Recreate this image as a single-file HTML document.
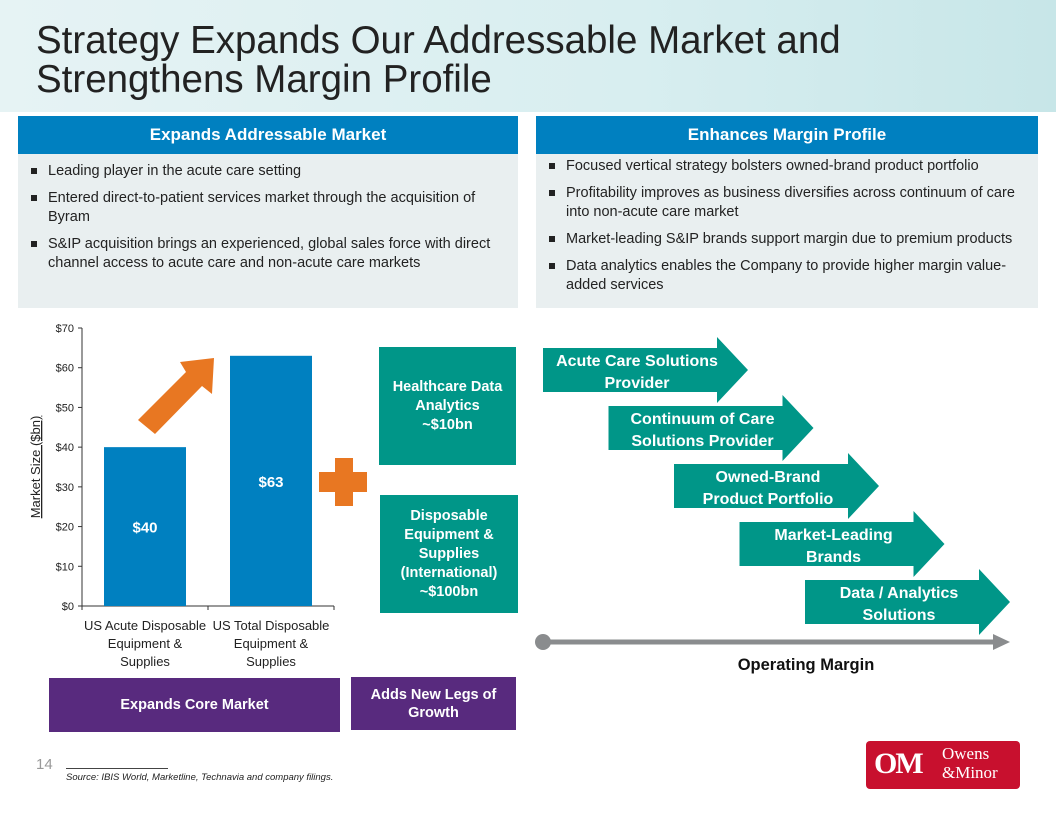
<!DOCTYPE html>
<html><head><meta charset="utf-8"><style>
*{margin:0;padding:0;box-sizing:border-box}
body{width:1056px;height:816px;position:relative;overflow:hidden;background:#fff;font-family:"Liberation Sans",sans-serif}
.abs{position:absolute}
.hdr{background:#0080c0;color:#fff;font-weight:bold;font-size:17px;text-align:center;line-height:38px}
.body{background:#e9eff0;font-size:14.5px;color:#222;padding:8px 20px 0 30px;line-height:19px}
.body li{list-style:none;position:relative;margin-bottom:8px}
.body li:before{content:"";position:absolute;left:-17px;top:6px;width:6px;height:6px;background:#222}
.teal{background:#009688;color:#fff;font-weight:bold;text-align:center;display:flex;align-items:center;justify-content:center;font-size:14.5px;line-height:19px}
.purple{background:#582a7e;color:#fff;font-weight:bold;text-align:center;display:flex;align-items:center;justify-content:center;font-size:14.5px;line-height:18px}
</style></head><body>
<div class="abs" style="left:0;top:0;width:1056px;height:112px;background:linear-gradient(90deg,#e6f3f4,#d8eef0 60%,#c7e6e8)"></div>
<div class="abs" style="left:36px;top:21px;font-size:38.5px;line-height:39px;color:#222">Strategy Expands Our Addressable Market and<br>Strengthens Margin Profile</div>

<div class="abs hdr" style="left:18px;top:116px;width:500px;height:38px">Expands Addressable Market</div>
<div class="abs body" style="left:18px;top:154px;width:500px;height:154px">
<ul><li>Leading player in the acute care setting</li>
<li>Entered direct-to-patient services market through the acquisition of Byram</li>
<li>S&amp;IP acquisition brings an experienced, global sales force with direct channel access to acute care and non-acute care markets</li></ul></div>
<div class="abs hdr" style="left:536px;top:116px;width:502px;height:38px">Enhances Margin Profile</div>
<div class="abs body" style="left:536px;top:154px;width:502px;height:154px;padding-top:3px">
<ul><li>Focused vertical strategy bolsters owned-brand product portfolio</li>
<li>Profitability improves as business diversifies across continuum of care into non-acute care market</li>
<li>Market-leading S&amp;IP brands support margin due to premium products</li>
<li>Data analytics enables the Company to provide higher margin value-added services</li></ul></div>

<svg class="abs" style="left:0;top:0" width="1056" height="816">
<g id="chart"></g>
<polygon points="138,420 186,372 180,362 214,358 212,394 202,386 155,434" fill="#e87722"/>
<g fill="#e87722"><rect x="335" y="458" width="18" height="48"/><rect x="319" y="472" width="48" height="20"/></g>
<g id="arrows"></g>
<line x1="543" y1="642" x2="995" y2="642" stroke="#8a8c8e" stroke-width="5"/>
<polygon points="993,634 1010,642 993,650" fill="#8a8c8e"/>
<circle cx="543" cy="642" r="8" fill="#8a8c8e"/>
<text x="806" y="670" text-anchor="middle" font-size="16.5" font-weight="bold" fill="#111">Operating Margin</text>
</svg>

<div class="abs teal" style="left:379px;top:347px;width:137px;height:118px">Healthcare Data<br>Analytics<br>~$10bn</div>
<div class="abs teal" style="left:380px;top:495px;width:138px;height:118px">Disposable<br>Equipment &amp;<br>Supplies<br>(International)<br>~$100bn</div>
<div class="abs purple" style="left:49px;top:678px;width:291px;height:54px">Expands Core Market</div>
<div class="abs purple" style="left:351px;top:677px;width:165px;height:53px">Adds New Legs of<br>Growth</div>

<div class="abs" style="left:36px;top:756px;font-size:15px;color:#999">14</div>
<div class="abs" style="left:66px;top:768px;width:102px;border-top:1px solid #444"></div>
<div class="abs" style="left:66px;top:772px;font-size:9.5px;font-style:italic;color:#222">Source: IBIS World, Marketline, Technavia and company filings.</div>
<div class="abs" style="left:866px;top:741px;width:154px;height:48px;background:#c8102e;border-radius:4px;color:#fff;font-family:'Liberation Serif',serif">
<span style="position:absolute;left:8px;top:6px;font-size:30px;font-weight:bold;letter-spacing:-2px">OM</span>
<span style="position:absolute;left:76px;top:3px;font-size:17px;line-height:19px">Owens<br>&amp;Minor</span></div>

<script>
const categories=[["US Acute Disposable","Equipment &","Supplies"],["US Total Disposable","Equipment &","Supplies"]];
const values=[40,63];
const valueLabels=["$40","$63"];
const ticks=[0,10,20,30,40,50,60,70];
const steps=[["Acute Care Solutions","Provider"],["Continuum of Care","Solutions Provider"],["Owned-Brand","Product Portfolio"],["Market-Leading","Brands"],["Data / Analytics","Solutions"]];
const NS="http://www.w3.org/2000/svg";
const g=document.getElementById("chart");
const x0=82,x1=334,y0=606,yTop=328,ymax=70;
const y=v=>y0-(v/ymax)*(y0-yTop);
function mk(t,a,p){const e=document.createElementNS(NS,t);for(const k in a)e.setAttribute(k,a[k]);(p||g).appendChild(e);return e;}
let ax=mk("line",{x1:x0,y1:yTop,x2:x0,y2:y0,stroke:"#333"});


let bx=mk("line",{x1:x0,y1:y0,x2:x1,y2:y0,stroke:"#333"});


ticks.forEach(t=>{mk("line",{x1:x0-4,y1:y(t),x2:x0,y2:y(t),stroke:"#333"});
const tl=mk("text",{x:x0-8,y:y(t)+4,"text-anchor":"end","font-size":11,fill:"#222"});tl.textContent="$"+t;

});
const band=(x1-x0)/categories.length;
for(let i=0;i<=categories.length;i++)mk("line",{x1:x0+band*i,y1:y0,x2:x0+band*i,y2:y0+4,stroke:"#333"});
categories.forEach((c,i)=>{const cx=x0+band*(i+0.5),w=82;
const r=mk("rect",{x:cx-w/2,y:y(values[i]),width:w,height:y0-y(values[i]),fill:"#0080c0"});


const vl=mk("text",{x:cx,y:y(values[i]/2)+6,"text-anchor":"middle","font-size":15,"font-weight":"bold",fill:"#fff"});vl.textContent=valueLabels[i];


c.forEach((ln,j)=>{const t=mk("text",{x:cx,y:y0+24+j*18,"text-anchor":"middle","font-size":13,fill:"#222"});t.textContent=ln;

});});
const yt=mk("text",{x:0,y:0,transform:`translate(40,${(y0+yTop)/2}) rotate(-90)`,"text-anchor":"middle","font-size":13,"text-decoration":"underline",fill:"#222"});yt.textContent="Market Size ($bn)";


const ag=document.getElementById("arrows");
steps.forEach((s,i)=>{const L=543+65.5*i,T=348+58*i,B=T+44,R=L+174,tip=L+205;
const p=mk("polygon",{points:`${L},${T} ${R},${T} ${R},${T-11} ${tip},${T+22} ${R},${B+11} ${R},${B} ${L},${B}`,fill:"#009688"},ag);


s.forEach((ln,j)=>{const t=mk("text",{x:L+94,y:T+18+j*22,"text-anchor":"middle","font-size":16,"font-weight":"bold",fill:"#fff"},ag);t.textContent=ln;

});});
</script>
</body></html>
